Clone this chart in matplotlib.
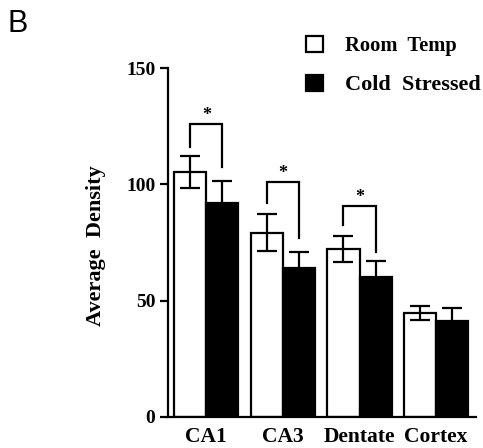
import matplotlib
matplotlib.use("Agg")
import matplotlib.pyplot as plt
import numpy as np
from matplotlib.patches import Patch

# ---- data ----
categories = ["CA1", "CA3", "Dentate", "Cortex"]
room_temp = [105.3, 79.2, 72.3, 44.6]
room_temp_err = [7.0, 8.0, 5.7, 3.0]
cold_stressed = [92.1, 63.9, 60.3, 41.4]
cold_stressed_err = [9.5, 7.0, 6.7, 5.6]
series_labels = ["Room  Temp", "Cold  Stressed"]
y_ticks = [0, 50, 100, 150]
# significance brackets (group index, left leg end, top, right leg end)
sig_groups = [0, 1, 2]
sig_left_end = [116.2, 91.8, 82.5]
sig_top = [125.9, 101.1, 90.7]
sig_right_end = [107.6, 76.8, 71.0]

serif = ["Liberation Serif", "DejaVu Serif"]

fig = plt.figure(figsize=(4.83, 4.48), dpi=100)
ax = fig.add_axes([0.3478, 0.0692, 0.6377, 0.7790])

x = np.arange(len(categories))
w = 0.42
xl = x - w / 2
xr = x + w / 2

ax.bar(xl, room_temp, width=w, color="white", edgecolor="black", linewidth=1.6, zorder=2)
ax.bar(xr, cold_stressed, width=w, color="black", edgecolor="black", linewidth=1.6, zorder=2)
ax.errorbar(xl, room_temp, yerr=room_temp_err, fmt="none", ecolor="black",
            elinewidth=1.6, capsize=7, capthick=1.6, zorder=3)
ax.errorbar(xr, cold_stressed, yerr=cold_stressed_err, fmt="none", ecolor="black",
            elinewidth=1.6, capsize=7, capthick=1.6, zorder=3)

for g, lo, top, ro in zip(sig_groups, sig_left_end, sig_top, sig_right_end):
    ax.plot([xl[g], xl[g], xr[g], xr[g]], [lo, top, top, ro], color="black",
            linewidth=1.6, solid_joinstyle="miter", zorder=3)
    ax.text(x[g], top + 1.8, "*", ha="center", va="baseline", fontsize=13,
            fontweight="bold", family=serif)

ax.set_xlim(-0.5, 3.52)
ax.set_ylim(0, 150)
ax.set_yticks(y_ticks)
ax.set_yticklabels([str(t) for t in y_ticks], fontsize=14, fontweight="bold", family=serif)
ax.set_xticks(x)
ax.set_xticklabels(categories, fontsize=15.5, fontweight="bold", family=serif)
ax.tick_params(axis="x", length=0, pad=7.5)
ax.tick_params(axis="y", length=6, width=1.6, pad=3, direction="out")

for s in ["top", "right"]:
    ax.spines[s].set_visible(False)
for s in ["left", "bottom"]:
    ax.spines[s].set_linewidth(1.6)

ax.set_ylabel("Average  Density", fontsize=16, fontweight="bold", family=serif)
ax.yaxis.set_label_coords(-0.20, 0.49)

handles = [Patch(facecolor="white", edgecolor="black", linewidth=1.6),
           Patch(facecolor="black", edgecolor="black", linewidth=1.6)]
leg = fig.legend(handles, series_labels, loc="upper left",
                 bbox_to_anchor=(306 / 483, 1 - 36 / 448), frameon=False,
                 prop={"family": serif, "weight": "bold", "size": 14.8},
                 handlelength=0.85, handleheight=0.85, handletextpad=1.05,
                 labelspacing=0.9, borderpad=0, borderaxespad=0)
leg.get_texts()[1].set_fontsize(16)

fig.text(7 / 483, 1 - 32 / 448, "B", fontsize=22, family=["Liberation Sans", "DejaVu Sans"],
         ha="left", va="baseline")

fig.savefig("out.png", dpi=100)
